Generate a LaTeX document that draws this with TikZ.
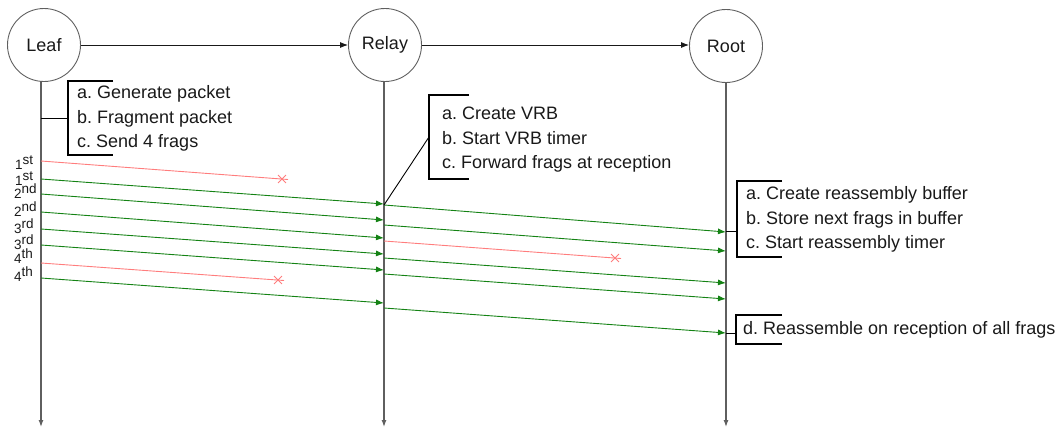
\documentclass[tikz,border=0pt]{standalone}
\usepackage{fontspec}
\setmainfont{Liberation Sans}
\usetikzlibrary{arrows.meta,shapes.misc}
\frenchspacing
\definecolor{msggreen}{RGB}{20,130,20}
\definecolor{msgred}{RGB}{255,125,125}
\definecolor{lifegray}{RGB}{95,95,95}
\definecolor{txt}{RGB}{25,25,25}
\newcommand\ordsup[1]{\raisebox{5pt}{#1}}
\tikzset{
  actor/.style={circle, draw=lifegray, line width=0.9pt, minimum size=73pt, inner sep=0pt, font=\fontsize{18}{20}\selectfont, text=txt},
  life/.style={draw=lifegray, line width=1.2pt, -{Latex[length=7pt,width=5pt]}},
  toparrow/.style={draw=txt, line width=0.9pt, -{Latex[length=8pt,width=6pt]}},
  okmsg/.style={draw=msggreen, line width=0.9pt, -{Latex[length=8pt,width=6pt]}},
  lostmsg/.style={draw=msgred, line width=0.9pt},
  lostmark/.style={cross out, draw=msgred, line width=0.9pt, minimum size=7pt, inner sep=0pt},
  notebox/.style={draw=black, line width=1.6pt},
  noteline/.style={font=\fontsize{18}{20}\selectfont, text=txt, anchor=base west, inner sep=0pt},
  ordlabel/.style={font=\fontsize{13.5}{14}\selectfont, text=txt, anchor=base west, inner sep=0pt},
  tie/.style={draw=black, line width=0.9pt}
}
\begin{document}
\begin{tikzpicture}[x=1pt,y=-1pt]
\useasboundingbox (0,0) rectangle (1060,428);

% actors
\node[actor] (leaf) at (44,45) {Leaf};
\node[actor] (relay) at (385,45) {Relay};
\node[actor] (root) at (726,46) {Root};
\draw[toparrow] (leaf.east) -- (relay.west |- leaf.east);
\draw[toparrow] (relay.east) -- (root.west |- relay.east);

% lifelines
\coordinate (leafEnd) at (41,427);
\coordinate (relayEnd) at (384,427);
\coordinate (rootEnd) at (726,427);
\draw[life] (leaf.south -| leafEnd) -- (leafEnd);
\draw[life] (relay.south -| relayEnd) -- (relayEnd);
\draw[life] (root.south -| rootEnd) -- (rootEnd);

% leaf note
\node[noteline] (la) at (77,99) {a. Generate packet};
\node[noteline] (lb) at (77,123) {b. Fragment packet};
\node[noteline] (lc) at (77,147) {c. Send 4 frags};
\draw[notebox] (113,81) -- (68,81) -- (68,155) -- (113,155);
\coordinate (lbrMid) at (68,118);
\coordinate (leafTie) at (41,118);
\draw[tie] (leafTie) -- (lbrMid);

% relay note
\node[noteline] (ra) at (442,119) {a. Create VRB};
\node[noteline] (rb) at (442,144) {b. Start VRB timer};
\node[noteline] (rc) at (442,168) {c. Forward frags at reception};
\draw[notebox] (469,95) -- (429,95) -- (429,179) -- (469,179);
\coordinate (rbrMid) at (429,137);

% root notes
\node[noteline] (oa) at (746,199) {a. Create reassembly buffer};
\node[noteline] (ob) at (746,224) {b. Store next frags in buffer};
\node[noteline] (oc) at (746,248) {c. Start reassembly timer};
\draw[notebox] (782,181) -- (737,181) -- (737,257) -- (782,257);
\coordinate (obrMid) at (737,231);
\node[noteline] (od) at (743,334) {d. Reassemble on reception of all frags};
\draw[notebox] (782,315) -- (736,315) -- (736,344) -- (782,344);
\coordinate (odbrMid) at (736,333);

% ordinal labels
\node[ordlabel] (o1a) at (15,169) {1\ordsup{st}};
\node[ordlabel] (o1b) at (15,185) {1\ordsup{st}};
\node[ordlabel] (o2a) at (14,198) {2\ordsup{nd}};
\node[ordlabel] (o2b) at (14,216) {2\ordsup{nd}};
\node[ordlabel] (o3a) at (14,233) {3\ordsup{rd}};
\node[ordlabel] (o3b) at (14,249) {3\ordsup{rd}};
\node[ordlabel] (o4a) at (14,263) {4\ordsup{th}};
\node[ordlabel] (o4b) at (14,281) {4\ordsup{th}};

% leaf side coordinates
\coordinate (L1) at (41,161);
\coordinate (L2) at (41,179);
\coordinate (L3) at (41,194);
\coordinate (L4) at (41,212);
\coordinate (L5) at (41,229);
\coordinate (L6) at (41,245);
\coordinate (L7) at (41,263);
\coordinate (L8) at (41,278);
% relay incoming
\coordinate (R2) at (384,204);
\coordinate (R3) at (384,220);
\coordinate (R4) at (384,238);
\coordinate (R5) at (384,254);
\coordinate (R6) at (384,270);
\coordinate (R8) at (384,303);
% relay outgoing
\coordinate (S1) at (384,205);
\coordinate (S2) at (384,225);
\coordinate (S3) at (384,241);
\coordinate (S4) at (384,258);
\coordinate (S5) at (384,274);
\coordinate (S6) at (384,308);
% root incoming
\coordinate (T1) at (726,232);
\coordinate (T2) at (726,251);
\coordinate (T4) at (726,283);
\coordinate (T5) at (726,299);
\coordinate (T6) at (726,333);

% lost fragments
\node[lostmark] (x1) at (282,179) {};
\coordinate (x1end) at (288,179.5);
\draw[lostmsg] (L1) -- (x1end);
\node[lostmark] (x2) at (278,280) {};
\coordinate (x2end) at (284,280.5);
\draw[lostmsg] (L7) -- (x2end);
\node[lostmark] (x3) at (615,258) {};
\coordinate (x3end) at (621,258.5);
\draw[lostmsg] (S3) -- (x3end);

% delivered fragments leaf -> relay
\draw[okmsg] (L2) -- (R2);
\draw[okmsg] (L3) -- (R3);
\draw[okmsg] (L4) -- (R4);
\draw[okmsg] (L5) -- (R5);
\draw[okmsg] (L6) -- (R6);
\draw[okmsg] (L8) -- (R8);
% relay -> root
\draw[okmsg] (S1) -- (T1);
\draw[okmsg] (S2) -- (T2);
\draw[okmsg] (S4) -- (T4);
\draw[okmsg] (S5) -- (T5);
\draw[okmsg] (S6) -- (T6);

% ties to notes
\draw[tie] (S1) -- (rbrMid);
\draw[tie] (T1 |- obrMid) -- (obrMid);
\draw[tie] (T6) -- (odbrMid);
\end{tikzpicture}
\end{document}
